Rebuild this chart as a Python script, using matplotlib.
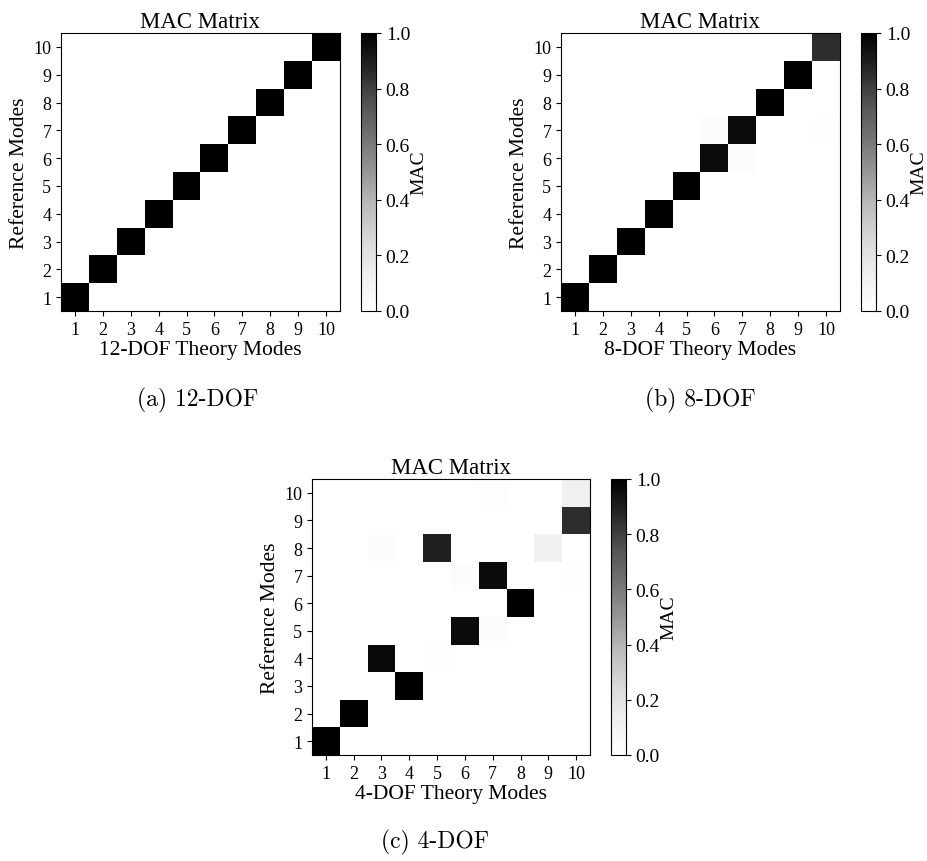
import numpy as np
import matplotlib.pyplot as plt

plt.rcParams['font.family'] = ['Liberation Serif', 'DejaVu Serif']

modes = [1, 2, 3, 4, 5, 6, 7, 8, 9, 10]
cbar_ticks = [0.0, 0.2, 0.4, 0.6, 0.8, 1.0]

# rows = reference modes (1..10), columns = theory modes (1..10)
mac_12dof = [
    [1.00, 0, 0, 0, 0, 0, 0, 0, 0, 0],
    [0, 1.00, 0, 0, 0, 0, 0, 0, 0, 0],
    [0, 0, 1.00, 0, 0, 0, 0, 0, 0, 0],
    [0, 0, 0, 1.00, 0, 0, 0, 0, 0, 0],
    [0, 0, 0, 0, 1.00, 0, 0, 0, 0, 0],
    [0, 0, 0, 0, 0, 1.00, 0, 0, 0, 0],
    [0, 0, 0, 0, 0, 0, 1.00, 0, 0, 0],
    [0, 0, 0, 0, 0, 0, 0, 1.00, 0, 0],
    [0, 0, 0, 0, 0, 0, 0, 0, 1.00, 0],
    [0, 0, 0, 0, 0, 0, 0, 0, 0, 1.00],
]

mac_8dof = [
    [1.00, 0, 0, 0, 0, 0, 0, 0, 0, 0],
    [0, 1.00, 0, 0, 0, 0, 0, 0, 0, 0],
    [0, 0, 1.00, 0, 0, 0, 0, 0, 0, 0],
    [0, 0, 0, 1.00, 0, 0, 0, 0, 0, 0],
    [0, 0, 0, 0, 1.00, 0, 0, 0, 0, 0],
    [0, 0, 0, 0, 0, 0.96, 0.03, 0, 0, 0],
    [0, 0, 0, 0, 0, 0.02, 0.96, 0, 0, 0.01],
    [0, 0, 0, 0, 0, 0, 0, 1.00, 0, 0],
    [0, 0, 0, 0, 0, 0, 0, 0, 1.00, 0],
    [0, 0, 0, 0, 0, 0, 0, 0, 0, 0.85],
]

mac_4dof = [
    [1.00, 0, 0, 0, 0, 0, 0, 0, 0, 0],
    [0, 1.00, 0, 0, 0, 0, 0, 0, 0, 0],
    [0, 0, 0, 1.00, 0, 0, 0, 0, 0, 0],
    [0, 0, 0.97, 0, 0.01, 0, 0, 0, 0, 0],
    [0, 0, 0, 0, 0, 0.96, 0.02, 0, 0, 0],
    [0, 0, 0, 0, 0, 0, 0, 1.00, 0, 0],
    [0, 0, 0, 0, 0, 0.02, 0.96, 0, 0, 0.01],
    [0, 0, 0.02, 0, 0.89, 0, 0, 0, 0.12, 0],
    [0, 0, 0, 0, 0, 0, 0, 0, 0, 0.85],
    [0, 0, 0, 0, 0, 0, 0.015, 0, 0, 0.12],
]

panels = [
    (mac_12dof, '12-DOF Theory Modes', '(a) 12-DOF'),
    (mac_8dof, '8-DOF Theory Modes', '(b) 8-DOF'),
    (mac_4dof, '4-DOF Theory Modes', '(c) 4-DOF'),
]

W, H = 928, 862
fig = plt.figure(figsize=(W / 100, H / 100), dpi=100)


def px_axes(x0, y0, x1, y1):
    # pixel box (top-left origin) -> figure fraction axes
    return fig.add_axes([x0 / W, 1 - y1 / H, (x1 - x0) / W, (y1 - y0) / H])


# axes box, colorbar box, caption centre
layout = [
    ((61, 34, 340, 312), (361, 34, 376, 312), (198, 400)),
    ((561, 34, 840, 312), (861, 34, 876, 312), (700, 400)),
    ((312, 480, 590, 756), (611, 480, 626, 756), (435, 842)),
]

for (mat, xlabel, caption), (abox, cbox, cap) in zip(panels, layout):
    ax = px_axes(*abox)
    cax = px_axes(*cbox)
    im = ax.imshow(np.array(mat), cmap='Greys', vmin=0, vmax=1, origin='lower',
                   extent=(0.5, 10.5, 0.5, 10.5), aspect='auto',
                   interpolation='nearest')
    ax.set_xticks(modes)
    ax.set_yticks(modes)
    ax.tick_params(labelsize=13)
    ax.set_xlabel(xlabel, fontsize=15.5, labelpad=2)
    ax.set_ylabel('Reference Modes', fontsize=15.5, labelpad=3)
    ax.set_title('MAC Matrix', fontsize=16.5, pad=4)

    cb = fig.colorbar(im, cax=cax)
    cb.set_ticks(cbar_ticks)
    cb.ax.tick_params(labelsize=14)
    cb.set_label('MAC', fontsize=14, labelpad=0)

    fig.text(cap[0] / W, 1 - cap[1] / H, caption, fontsize=17,
             family='cmr10', ha='center', va='center')

plt.savefig('out.png', dpi=100)
